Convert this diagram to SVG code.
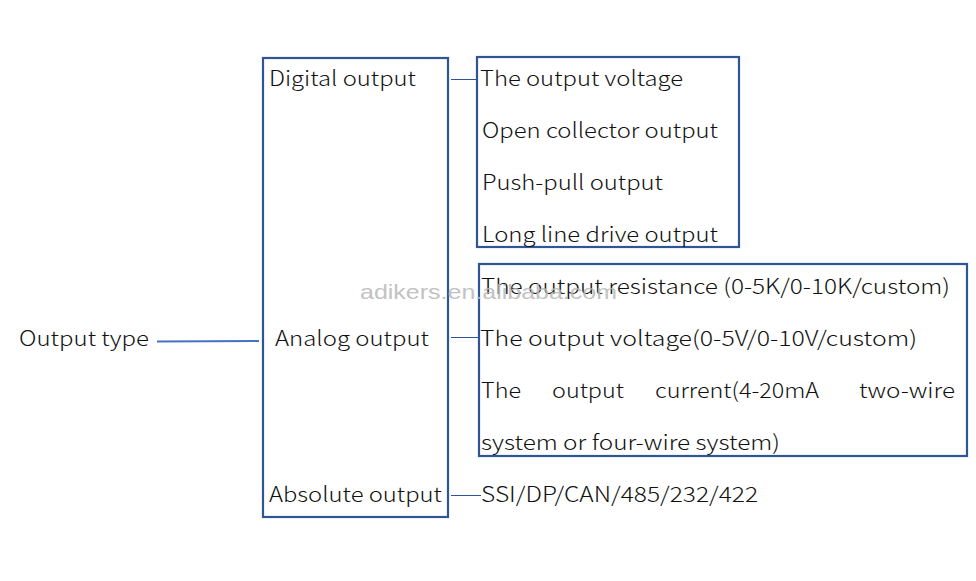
<svg xmlns="http://www.w3.org/2000/svg" width="976" height="581" viewBox="0 0 976 581">
<style>
.box{fill:none;stroke:#2F5597;stroke-width:2.2}
.t{font-family:"Noto Sans CJK SC","Noto Sans",sans-serif;font-size:21px;font-weight:300;fill:#111}
.thin{stroke:#2F5597;stroke-width:1;fill:none}
.wm{font-family:"Liberation Sans",Arial,sans-serif;font-size:21px;fill:#b8b8b8;opacity:0.85}
</style>
<rect width="976" height="581" fill="#fff"/>
<g id="connectors">
<line x1="157" y1="341.5" x2="259" y2="341" stroke="#4472C4" stroke-width="2"/>
<line class="thin" x1="451" y1="79.5" x2="477" y2="79.5"/>
<line class="thin" x1="451" y1="337.5" x2="480" y2="337.5"/>
<line class="thin" x1="451" y1="495.5" x2="481" y2="495.5"/>
</g>
<g id="output-type">
<text class="t" x="19" y="346" textLength="130" lengthAdjust="spacingAndGlyphs">Output type</text>
</g>
<g id="output-kinds">
<rect class="box" x="263" y="58" width="185" height="459"/>
<text class="t" x="269" y="86" textLength="147" lengthAdjust="spacingAndGlyphs">Digital output</text>
<text class="t" x="275" y="346" textLength="154" lengthAdjust="spacingAndGlyphs">Analog output</text>
<text class="t" x="269" y="502" textLength="173" lengthAdjust="spacingAndGlyphs">Absolute output</text>
</g>
<g id="digital-list">
<rect class="box" x="477" y="57" width="262" height="190"/>
<text class="t" x="480" y="86" textLength="203" lengthAdjust="spacingAndGlyphs">The output voltage</text>
<text class="t" x="482" y="138" textLength="236" lengthAdjust="spacingAndGlyphs">Open collector output</text>
<text class="t" x="482" y="190" textLength="181" lengthAdjust="spacingAndGlyphs">Push-pull output</text>
<text class="t" x="482" y="242" textLength="236" lengthAdjust="spacingAndGlyphs">Long line drive output</text>
</g>
<g id="analog-list">
<rect class="box" x="479" y="264" width="488" height="192"/>
<text class="t" x="481" y="294" textLength="469" lengthAdjust="spacingAndGlyphs">The output resistance (0-5K/0-10K/custom)</text>
<text class="t" x="480" y="346" textLength="437" lengthAdjust="spacingAndGlyphs">The output voltage(0-5V/0-10V/custom)</text>
<text class="t" y="398"><tspan x="481" textLength="40" lengthAdjust="spacingAndGlyphs">The</tspan><tspan x="552" textLength="72" lengthAdjust="spacingAndGlyphs">output</tspan><tspan x="655" textLength="164" lengthAdjust="spacingAndGlyphs">current(4-20mA</tspan><tspan x="859" textLength="96" lengthAdjust="spacingAndGlyphs">two-wire</tspan></text>
<text class="t" x="481" y="450" textLength="299" lengthAdjust="spacingAndGlyphs">system or four-wire system)</text>
</g>
<g id="absolute-list">
<text class="t" x="481" y="502" textLength="277" lengthAdjust="spacingAndGlyphs">SSI/DP/CAN/485/232/422</text>
</g>
<text class="wm" x="360" y="299" textLength="257" lengthAdjust="spacingAndGlyphs">adikers.en.alibaba.com</text>
</svg>
